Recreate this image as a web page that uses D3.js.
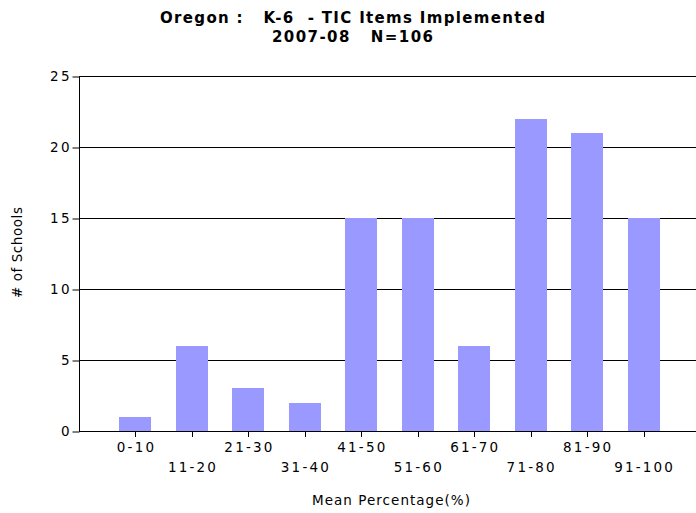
<!DOCTYPE html>
<html><head><meta charset="utf-8">
<script src="https://cdn.jsdelivr.net/npm/d3@7"></script>
<style>
html,body{margin:0;padding:0;background:#fff;}
text{font-family:"DejaVu Sans",Verdana,sans-serif;white-space:pre;}
</style></head>
<body><svg id="c" width="696" height="513"></svg>
<script>
const categories = ["0-10","11-20","21-30","31-40","41-50","51-60","61-70","71-80","81-90","91-100"];
const values = [1,6,3,2,15,15,6,22,21,15];
const yTicks = [0,5,10,15,20,25];
const titleLines = ["Oregon :   K-6  - TIC Items Implemented","2007-08   N=106"];

(function(){
const svg = d3.select("#c");
const mLeft = 79, mRight = 700, mTop = 76, mBottom = 431;
const x = d3.scaleLinear().domain([-1, 10]).range([mLeft, mRight]);
const y = d3.scaleLinear().domain([0, 25]).range([mBottom, mTop]);
const ls = 2.2;

// grid lines
svg.append("g").selectAll("line").data(yTicks.filter(d=>d>0)).join("line")
  .attr("x1", mLeft).attr("x2", 696)
  .attr("y1", d=>Math.round(y(d))+0.5).attr("y2", d=>Math.round(y(d))+0.5)
  .attr("stroke","#000").attr("stroke-width",1);

// bars
const bw = 32;
svg.append("g").selectAll("rect").data(values).join("rect")
  .attr("x",(d,i)=>Math.round(x(i)-bw/2))
  .attr("width",bw)
  .attr("y",d=>Math.round(y(d)))
  .attr("height",d=>Math.round(y(0))-Math.round(y(d)))
  .attr("fill","#9999ff");

// y axis
const yAxis = d3.axisLeft(y).tickValues(yTicks).tickSize(7).tickPadding(3);
const gy = svg.append("g").attr("transform",`translate(${mLeft+0.5},0.5)`).call(yAxis);
gy.select(".domain").remove();
gy.selectAll("text").attr("font-size",13.5).attr("font-family","DejaVu Sans")
  .attr("fill","#000").attr("letter-spacing",ls).attr("dx",ls);
gy.append("line").attr("x1",0).attr("x2",0).attr("y1",mTop).attr("y2",mBottom).attr("stroke","#000");

// x axis
svg.append("line").attr("x1",mLeft).attr("x2",696).attr("y1",mBottom+0.5).attr("y2",mBottom+0.5).attr("stroke","#000");
svg.append("g").selectAll("line").data(categories).join("line")
  .attr("x1",(d,i)=>Math.round(x(i))+0.5).attr("x2",(d,i)=>Math.round(x(i))+0.5)
  .attr("y1",mBottom).attr("y2",mBottom+6).attr("stroke","#000");
svg.append("g").selectAll("text").data(categories).join("text")
  .attr("x",(d,i)=>x(i)+ls/2).attr("y",(d,i)=> i%2===0 ? 452 : 472)
  .attr("text-anchor","middle").attr("font-size",13.5).attr("fill","#000")
  .attr("letter-spacing",ls)
  .text(d=>d);

// axis titles
svg.append("text").attr("x",312).attr("y",505)
  .attr("font-size",13.5).attr("textLength",158).attr("lengthAdjust","spacing").text("Mean Percentage(%)");
svg.append("text").attr("transform","translate(22,298) rotate(-90)")
  .attr("font-size",13.5).attr("textLength",91).attr("lengthAdjust","spacing").text("# of Schools");

// title
const tw = [385, 161];
svg.append("g").selectAll("text").data(titleLines).join("text")
  .attr("x",(d,i)=>352.5 - tw[i]/2).attr("y",(d,i)=>23+i*19)
  .attr("textLength",(d,i)=>tw[i]).attr("lengthAdjust","spacing")
  .attr("font-size",15).attr("font-weight","bold").text(d=>d);
})();
</script></body></html>
